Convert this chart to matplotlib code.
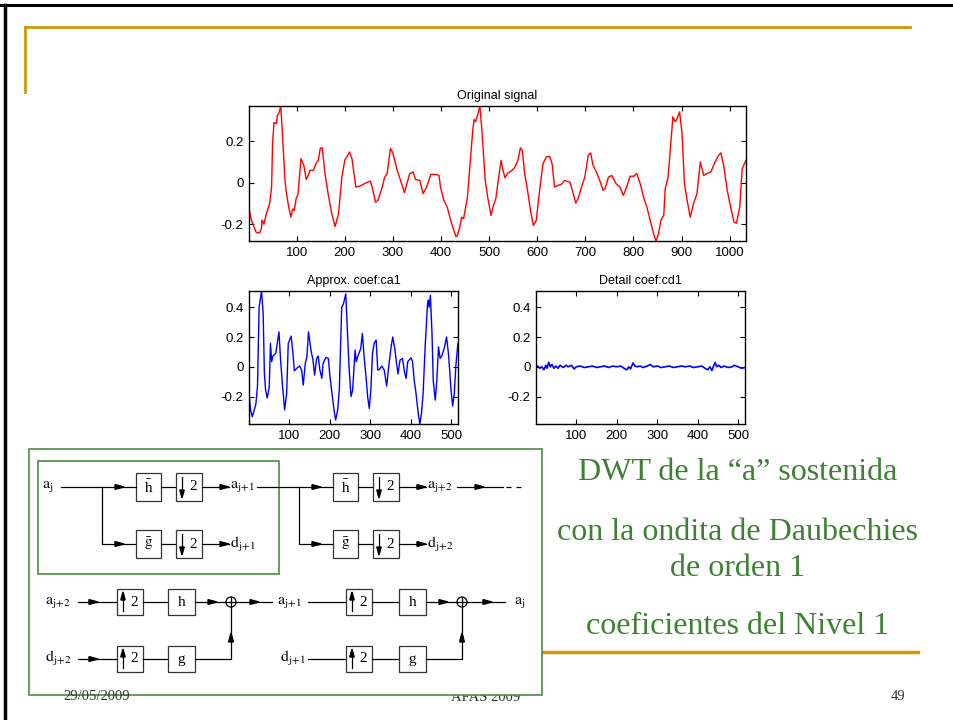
import matplotlib.pyplot as plt
from matplotlib.patches import Rectangle, Circle, Polygon

plt.rcParams['font.family'] = ['Liberation Sans', 'DejaVu Sans']
plt.rcParams['axes.unicode_minus'] = False
plt.rcParams['mathtext.fontset'] = 'stix'

# --- values ---
# original signal
sig_x = [1, 6, 16, 23, 27, 28, 32, 37, 44, 48,
         50, 53, 58, 60, 63, 67, 70, 76, 79, 83,
         88, 92, 95, 99, 103, 109, 115, 120, 124, 128,
         135, 140, 145, 149, 153, 159, 166, 173, 180, 187,
         194, 200, 210, 215, 223, 232, 243, 253, 257, 264,
         269, 276, 283, 288, 295, 300, 309, 316, 324, 330,
         335, 342, 347, 356, 363, 370, 379, 389, 396, 399,
         406, 413, 420, 427, 431, 434, 439, 443, 447, 450,
         455, 460, 466, 469, 472, 475, 481, 485, 492, 497,
         504, 509, 514, 520, 525, 528, 533, 539, 546, 553,
         560, 565, 569, 574, 581, 586, 592, 598, 605, 612,
         619, 626, 631, 636, 643, 650, 657, 668, 675, 680,
         685, 692, 699, 706, 711, 716, 723, 730, 737, 741,
         748, 755, 764, 772, 779, 786, 793, 800, 807, 814,
         821, 828, 835, 842, 847, 852, 857, 863, 866, 872,
         877, 882, 887, 890, 896, 901, 906, 911, 918, 925,
         932, 939, 946, 953, 961, 968, 977, 982, 988, 995,
         1002, 1009, 1014, 1021, 1026, 1034]
sig_y = [-0.126, -0.18, -0.24, -0.242, -0.22, -0.18, -0.2, -0.15, -0.10, -0.02,
         0.19, 0.29, 0.285, 0.325, 0.334, 0.369, 0.253, 0.003, -0.053, -0.11,
         -0.166, -0.126, -0.134, -0.077, -0.053, 0.116, 0.084, 0.015, 0.035, 0.06,
         0.06, 0.092, 0.108, 0.165, 0.169, 0.044, -0.061, -0.15, -0.211, -0.15,
         0.027, 0.108, 0.148, 0.116, -0.021, -0.016, -0.002, 0.008, -0.021, -0.094,
         -0.085, -0.037, 0.027, 0.044, 0.165, 0.144, 0.06, 0.011, -0.048, 0.003,
         0.044, 0.052, 0.016, 0.011, -0.053, -0.021, 0.04, 0.04, 0.035, -0.021,
         -0.085, -0.118, -0.18, -0.23, -0.26, -0.255, -0.215, -0.166, -0.174, -0.134,
         -0.069, 0.076, 0.253, 0.305, 0.294, 0.318, 0.369, 0.253, 0.011, -0.069,
         -0.158, -0.11, -0.077, 0.027, 0.108, 0.068, 0.024, 0.047, 0.056, 0.073,
         0.108, 0.168, 0.156, 0.044, -0.053, -0.134, -0.206, -0.182, -0.037, 0.092,
         0.124, 0.127, 0.092, -0.021, -0.013, -0.008, 0.011, 0.003, -0.053, -0.098,
         -0.077, -0.021, 0.027, 0.132, 0.144, 0.084, 0.052, 0.011, -0.037, -0.029,
         0.027, 0.035, -0.005, -0.021, -0.061, -0.021, 0.031, 0.031, 0.044, -0.005,
         -0.069, -0.118, -0.182, -0.247, -0.282, -0.247, -0.182, -0.158, -0.029, 0.027,
         0.173, 0.318, 0.294, 0.305, 0.342, 0.237, -0.005, -0.077, -0.166, -0.10,
         -0.053, 0.10, 0.035, 0.044, 0.052, 0.092, 0.132, 0.144, 0.076, -0.037,
         -0.118, -0.19, -0.195, -0.118, 0.068, 0.108]

# approximation coefficients ca1
ca1_x = [1, 5, 9, 13, 18, 22, 26, 28, 32, 36,
         39, 42, 46, 51, 54, 57, 60, 67, 72, 75,
         79, 84, 89, 94, 98, 105, 110, 113, 121, 126,
         131, 135, 140, 144, 148, 154, 159, 163, 168, 172,
         176, 181, 184, 191, 197, 201, 206, 211, 215, 220,
         224, 230, 234, 240, 244, 248, 253, 257, 263, 266,
         270, 277, 281, 285, 290, 294, 298, 302, 306, 310,
         315, 319, 323, 329, 335, 341, 346, 352, 356, 361,
         366, 369, 374, 380, 385, 389, 393, 401, 405, 409,
         413, 419, 423, 427, 431, 436, 442, 444, 446, 449,
         453, 456, 461, 465, 469, 473, 477, 483, 489, 494,
         500, 504, 508, 512, 517]
ca1_y = [-0.18, -0.29, -0.336, -0.30, -0.25, -0.13, 0.40, 0.437, 0.51, 0.36,
         -0.045, -0.157, -0.21, -0.134, 0.157, 0.034, 0.072, 0.09, 0.18, 0.235,
         0.045, -0.134, -0.29, -0.18, 0.157, 0.206, 0.078, -0.027, -0.005, 0.005,
         -0.022, -0.123, 0.022, 0.067, 0.235, 0.112, 0.045, -0.056, 0.056, 0.072,
         -0.022, -0.078, 0.022, 0.063, 0.056, -0.067, -0.18, -0.29, -0.358, -0.29,
         -0.157, 0.40, 0.42, 0.49, 0.246, 0.0, -0.2, -0.157, 0.112, 0.034,
         0.072, 0.123, 0.224, 0.078, -0.067, -0.2, -0.28, -0.157, 0.09, 0.157,
         0.18, -0.022, -0.018, 0.005, -0.022, -0.13, 0.0, 0.134, 0.2, 0.123,
         0.011, -0.049, 0.045, 0.056, -0.034, -0.078, 0.034, 0.06, 0.034, -0.09,
         -0.168, -0.313, -0.385, -0.313, -0.18, 0.134, 0.425, 0.448, 0.40, 0.48,
         0.224, -0.09, -0.224, -0.09, 0.134, 0.056, 0.072, 0.123, 0.2, 0.078,
         -0.157, -0.264, -0.18, 0.011, 0.157]

# detail coefficients cd1
cd1_x = [1, 5, 10, 15, 20, 25, 28, 32, 36, 40,
         45, 50, 55, 60, 68, 75, 80, 88, 95, 100,
         110, 120, 130, 140, 150, 160, 170, 180, 190, 200,
         210, 218, 225, 230, 234, 240, 245, 250, 258, 265,
         275, 283, 290, 300, 310, 320, 330, 340, 350, 360,
         370, 380, 390, 400, 410, 418, 425, 430, 435, 440,
         443, 447, 452, 458, 465, 475, 485, 490, 495, 500,
         508, 517]
cd1_y = [0.0, 0.005, -0.01, 0.0, -0.02, 0.01, -0.01, 0.03, 0.0, 0.015,
         -0.01, 0.005, -0.01, 0.01, -0.005, 0.01, 0.0, 0.01, -0.015, 0.0,
         0.005, -0.005, 0.0, 0.005, -0.005, 0.0, 0.005, -0.005, 0.005, 0.0,
         0.005, -0.01, -0.02, 0.0, -0.015, 0.025, 0.005, 0.0, 0.005, -0.005,
         0.005, 0.015, 0.0, 0.005, -0.005, 0.0, 0.005, -0.005, 0.0, 0.005,
         0.0, 0.005, -0.005, 0.0, 0.005, -0.01, -0.02, 0.0, -0.025, 0.01,
         0.03, 0.0, 0.01, -0.005, 0.005, -0.005, 0.0, 0.01, 0.005, 0.0,
         -0.01, -0.005]

sig_xticks = [100, 200, 300, 400, 500, 600, 700, 800, 900, 1000]
sig_yticks = [-0.2, 0, 0.2]
coef_xticks = [100, 200, 300, 400, 500]
coef_yticks = [-0.2, 0, 0.2, 0.4]
side_text = ['DWT de la \u201ca\u201d sostenida', 'con la ondita de Daubechies',
             'de orden 1', 'coeficientes del Nivel 1']

GOLD = '#cc9a06'
GREEN = '#4e8c3f'
TXT_GREEN = '#3f8034'

fig = plt.figure(figsize=(9.54, 7.2), dpi=100)

# slide layer, drawn in pixel units (y down)
bg = fig.add_axes([0, 0, 1, 1], zorder=0)
bg.set_xlim(0, 954)
bg.set_ylim(720, 0)
bg.axis('off')

# black frame top / left, gold rules
bg.plot([0, 954], [5, 5], color='black', lw=2.2)
bg.plot([5, 5], [5, 720], color='black', lw=2.5)
bg.plot([25, 910], [27, 27], color=GOLD, lw=2)
bg.plot([25, 25], [27, 92], color=GOLD, lw=2)
bg.plot([540, 918], [652, 652], color=GOLD, lw=2.5)

# footer
bg.text(63, 700, '29/05/2009', family='Liberation Serif', fontsize=10.5,
        color='#333333', va='baseline', zorder=5)
bg.text(486, 701, 'AFAS 2009', family='Liberation Serif', fontsize=10.5,
        color='#333333', va='baseline', ha='center', zorder=1)
bg.text(898, 700, '49', family='Liberation Serif', fontsize=10.5,
        color='#333333', va='baseline', ha='center')

# green text on the right
for txt, yy in zip(side_text, [473, 532, 569, 627]):
    bg.text(738, yy, txt, family='Liberation Serif', fontsize=23,
            color=TXT_GREEN, ha='center', va='center')

# diagram image with green frame
bg.add_patch(Rectangle((29, 449), 513, 246, facecolor='white',
                       edgecolor=GREEN, lw=1.2, zorder=3))
bg.add_patch(Rectangle((38, 461), 241, 113, facecolor='none',
                       edgecolor=GREEN, lw=1.2, zorder=4))


def seg(xs, ys, z=4):
    bg.plot(xs, ys, color='black', lw=0.9, zorder=z)


def tip(x, y, d='r', L=9, w=2.4):
    if d == 'r':
        pts = [(x, y), (x - L, y - w), (x - L, y + w)]
    elif d == 'u':
        pts = [(x, y), (x - w, y + L), (x + w, y + L)]
    else:
        pts = [(x, y), (x - w, y - L), (x + w, y - L)]
    bg.add_patch(Polygon(pts, closed=True, color='black', zorder=5))


def box(x0, y0, x1, y1, label=None, arrow=None):
    bg.add_patch(Rectangle((x0, y0), x1 - x0, y1 - y0, facecolor='white',
                           edgecolor='#333333', lw=0.9, zorder=4))
    cx, cy = (x0 + x1) / 2, (y0 + y1) / 2
    if arrow is None:
        bg.text(cx, cy, label, fontsize=11, ha='center', va='center',
                family='Liberation Serif', zorder=5)
    else:
        xa = x0 + 6
        if arrow == 'down':
            seg([xa, xa], [y0 + 4, y1 - 8], z=5)
            tip(xa, y1 - 3, 'd', L=8, w=2.2)
        else:
            seg([xa, xa], [y1 - 4, y0 + 8], z=5)
            tip(xa, y0 + 3, 'u', L=8, w=2.2)
        bg.text(x0 + 17, cy, '2', fontsize=11, ha='center', va='center',
                family='Liberation Serif', zorder=5)


def lab(x, y, s):
    bg.text(x, y, s, fontsize=11.5, ha='left', va='center', zorder=5)


def adder(x, y):
    bg.add_patch(Circle((x, y), 5, facecolor='white', edgecolor='black',
                        lw=0.9, zorder=5))
    seg([x - 5, x + 5], [y, y], z=6)
    seg([x, x], [y - 5, y + 5], z=6)


def sub(letter, idx):
    return r'$\mathrm{' + letter + r'}_{\mathrm{' + idx + r'}}$'


# analysis, two stages
for off, idx in [(0, 'j{+}1'), (197, 'j{+}2')]:
    r1, r2 = 487, 544
    bx = 136 + off
    seg([bx - 34, bx - 34, bx], [r1, r2, r2])
    tip(bx - 12, r1)
    tip(bx - 12, r2)
    for r, name in [(r1, r'$\bar{\mathrm{h}}$'), (r2, r'$\bar{\mathrm{g}}$')]:
        box(bx, r - 14, bx + 25, r + 14, name)
        seg([bx + 25, bx + 40], [r, r])
        box(bx + 40, r - 14, bx + 66, r + 14, arrow='down')
        seg([bx + 66, bx + 93], [r, r])
        tip(bx + 93, r)
    lab(bx + 94, r1, sub('a', idx))
    lab(bx + 94, r2, sub('d', idx))
lab(42, 487, sub('a', 'j'))
seg([61, 136], [487, 487])
seg([257, 333], [487, 487])
seg([457, 503], [487, 487])
tip(484, 487)
bg.plot([506, 522], [487, 487], color='black', lw=0.9, ls=(0, (4, 4)), zorder=4)

# synthesis, two stages
q1, q2 = 602, 659
for x_in, b1, b2, add_x, idx, first in [(78, 117, 168, 231, 'j{+}2', True),
                                        (308, 346, 399, 462, 'j{+}1', False)]:
    for r, name in [(q1, 'h'), (q2, 'g')]:
        seg([x_in, b1], [r, r])
        box(b1, r - 13, b1 + 26, r + 13, arrow='up')
        seg([b1 + 26, b2], [r, r])
        box(b2, r - 13, b2 + 27, r + 13, name)
    if first:
        tip(98, q1)
        tip(98, q2)
        lab(45, q1, sub('a', idx))
        lab(45, q2, sub('d', idx))
    else:
        lab(280, q2, sub('d', idx))
    seg([b2 + 27, add_x - 5], [q1, q1])
    tip(add_x - 14, q1)
    seg([b2 + 27, add_x, add_x], [q2, q2, q1 + 5])
    tip(add_x, q1 + 31, 'u')
    adder(add_x, q1)
seg([236, 272], [q1, q1])
tip(259, q1)
lab(277, q1, sub('a', 'j{+}1'))
seg([467, 505], [q1, q1])
tip(492, q1)
lab(514, q1, sub('a', 'j'))


def style(ax, xt, yt):
    ax.set_xticks(xt)
    ax.set_yticks(yt)
    ax.set_yticklabels([('%g' % v) for v in yt])
    ax.tick_params(direction='in', top=True, right=True, length=3.5,
                   width=0.8, labelsize=9.5, pad=4)
    for s in ax.spines.values():
        s.set_linewidth(1.0)


# original signal
ax1 = fig.add_axes([0.261, 0.665, 0.521, 0.1875], zorder=2)
ax1.plot(sig_x, sig_y, color='red', lw=1.0)
ax1.set_xlim(1, 1034)
ax1.set_ylim(min(sig_y), max(sig_y))
style(ax1, sig_xticks, sig_yticks)
ax1.set_title('Original signal', fontsize=9, pad=5)

# approximation
ax2 = fig.add_axes([0.261, 0.411, 0.219, 0.185], zorder=2)
ax2.plot(ca1_x, ca1_y, color='blue', lw=1.0)
ax2.set_xlim(1, 517)
ax2.set_ylim(min(ca1_y), max(ca1_y))
style(ax2, coef_xticks, coef_yticks)
ax2.set_title('Approx. coef:ca1', fontsize=9, pad=5)

# detail
ax3 = fig.add_axes([0.562, 0.411, 0.219, 0.185], zorder=2)
ax3.plot(cd1_x, cd1_y, color='blue', lw=1.2)
ax3.set_xlim(1, 517)
ax3.set_ylim(min(ca1_y), max(ca1_y))
style(ax3, coef_xticks, coef_yticks)
ax3.set_title('Detail coef:cd1', fontsize=9, pad=5)

plt.savefig('out.png', dpi=100)
